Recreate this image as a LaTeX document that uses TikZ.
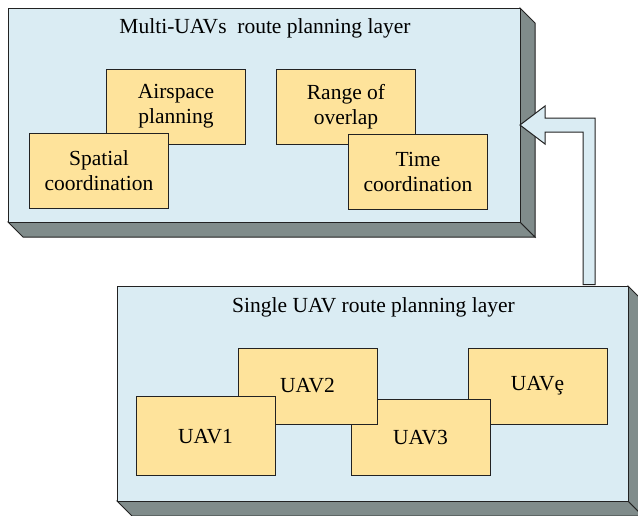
\documentclass[tikz,border=0pt]{standalone}
\usepackage{fontspec}
\setmainfont{Liberation Serif}
\definecolor{layerblue}{HTML}{DAECF3}
\definecolor{boxyellow}{HTML}{FEE39B}
\definecolor{shadegrey}{HTML}{808C8B}
\definecolor{edgedark}{HTML}{222222}
\tikzset{
  edge/.style={draw=edgedark, line width=1pt, line join=miter},
  ybox/.style={edge, fill=boxyellow, rectangle, inner sep=0pt, minimum width=139pt, minimum height=75pt, align=center, font=\fontsize{21.5}{25}\selectfont},
  title/.style={inner sep=0pt, font=\fontsize{21.5}{25}\selectfont},
}
\begin{document}
\begin{tikzpicture}[x=1pt,y=-1pt]
\clip (0,0) rectangle (638,515);
\fill[white] (0,0) rectangle (638,515);
% top layer (3D slab)
\path[edge, fill=shadegrey] (8,222) -- (520,222) -- (535,237) -- (23,237) -- cycle;
\path[edge, fill=shadegrey] (520,8) -- (535,23) -- (535,237) -- (520,222) -- cycle;
\path[edge, fill=layerblue] (8,8) rectangle (520,222);
\node[title] (ttop) at (265,28) {Multi-UAVs\ \ route planning layer};
\node[ybox] (air) at (176,106.5) {Airspace\\planning};
\node[ybox] (spat) at (99,171) {Spatial\\coordination};
\node[ybox] (range) at (346,106.5) {Range of\\overlap};
\node[ybox] (time) at (418,171.5) {Time\\coordination};
% bottom layer (3D slab)
\path[edge, fill=shadegrey] (117,501) -- (628,501) -- (643,516) -- (132,516) -- cycle;
\path[edge, fill=shadegrey] (628,286) -- (643,301) -- (643,516) -- (628,501) -- cycle;
\path[edge, fill=layerblue] (117,286) rectangle (628,501);
\node[title] (tbot) at (373.5,307) {Single UAV route planning layer};
\node[ybox, minimum height=76pt] (uave) at (537.5,386) {UAVȩ};
\node[ybox, minimum height=76pt] (uav3) at (420.5,437.7) {UAV3};
\node[ybox, minimum height=76pt] (uav2) at (307.5,386) {UAV2};
\node[ybox, minimum height=79pt] (uav1) at (205.5,436.2) {UAV1};
% block arrow from bottom layer to top layer
\path[edge, fill=layerblue] (520,125) -- (545,106) -- (545,118) -- (595,118) -- (595,284.5)
  -- (583,284.5) -- (583,132) -- (545,132) -- (545,144) -- cycle;
\end{tikzpicture}
\end{document}
